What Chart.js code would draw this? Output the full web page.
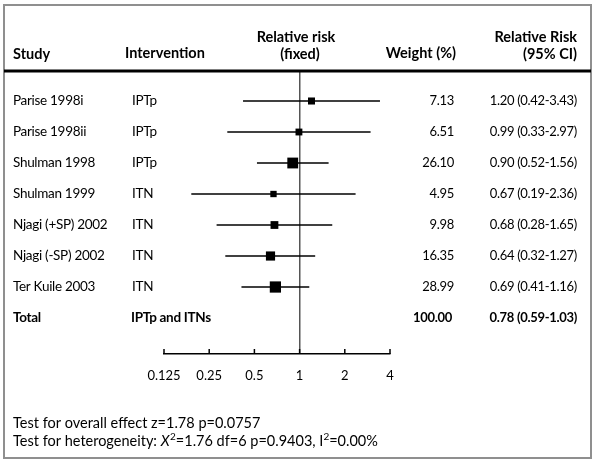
<!DOCTYPE html>
<html>
<head>
<meta charset="utf-8">
<script src="https://cdn.jsdelivr.net/npm/chart.js@4.4.1/dist/chart.umd.min.js"></script>
<style>
  html, body { margin: 0; padding: 0; background: #fff; }
  #wrap { width: 600px; height: 470px; position: relative; }
</style>
</head>
<body>
<div id="wrap"><canvas id="c" width="600" height="470" style="width:600px;height:470px"></canvas></div>
<script>
// ---- data ----
const studies = ['Parise 1998i', 'Parise 1998ii', 'Shulman 1998', 'Shulman 1999', 'Njagi (+SP) 2002', 'Njagi (-SP) 2002', 'Ter Kuile 2003'];
const interventions = ['IPTp', 'IPTp', 'IPTp', 'ITN', 'ITN', 'ITN', 'ITN'];
const relRisk = [1.20, 0.99, 0.90, 0.67, 0.68, 0.64, 0.69];
const ciLow = [0.42, 0.33, 0.52, 0.19, 0.28, 0.32, 0.41];
const ciHigh = [3.43, 2.97, 1.56, 2.36, 1.65, 1.27, 1.16];
const weights = [7.13, 6.51, 26.10, 4.95, 9.98, 16.35, 28.99];
const totalLabel = 'Total';
const totalIntervention = 'IPTp and ITNs';
const totalWeight = 100.00;
const totalRR = 0.78;
const totalLow = 0.59;
const totalHigh = 1.03;
const tickValues = [0.125, 0.25, 0.5, 1, 2, 4];
const tickLabels = ['0.125', '0.25', '0.5', '1', '2', '4'];
const headers = { study: 'Study', intervention: 'Intervention', rr1: 'Relative risk', rr2: '(fixed)', weight: 'Weight (%)', ci1: 'Relative Risk', ci2: '(95% CI)' };
const testOverall = 'Test for overall effect z=1.78 p=0.0757';
const testHet = ['Test for heterogeneity: ', 'X', '2', '=1.76 df=6 p=0.9403, I', '2', '=0.00%'];

// ---- helpers ----
const FONT = 'Lato, "Open Sans", sans-serif';
function squareSide(w) { return 2.9 + 1.55 * Math.sqrt(w); }
function fmtCI(r, lo, hi) { return r.toFixed(2) + ' (' + lo.toFixed(2) + '-' + hi.toFixed(2) + ')'; }
function setSpacing(ctx, v) { if ('letterSpacing' in ctx) ctx.letterSpacing = v; }

const ciDatasets = studies.map((s, i) => ({
  type: 'scatter',
  label: s + ' CI',
  data: [{ x: ciLow[i], y: i }, { x: ciHigh[i], y: i }],
  showLine: true,
  borderColor: '#000',
  borderWidth: 1.5,
  pointRadius: 0,
  order: 2
}));

const pointDataset = {
  type: 'scatter',
  label: 'Relative risk',
  data: relRisk.map((v, i) => ({ x: v, y: i })),
  pointStyle: 'rect',
  pointRadius: weights.map(w => squareSide(w) / Math.SQRT2),
  backgroundColor: '#000',
  borderColor: '#000',
  borderWidth: 0,
  order: 0
};

const tablePlugin = {
  id: 'tablePlugin',
  afterDraw(chart) {
    const ctx = chart.ctx;
    const ys = chart.scales.y;
    const xs = chart.scales.x;
    ctx.save();
    // outer frame
    ctx.strokeStyle = '#8f8f8f';
    ctx.lineWidth = 2;
    ctx.strokeRect(4, 5, 587, 453);
    // header rule
    ctx.fillStyle = '#000';
    ctx.fillRect(4, 69.5, 587, 3);
    // upward tick marks
    ctx.strokeStyle = '#000';
    ctx.lineWidth = 1.5;
    const by = chart.chartArea.bottom;
    xs.ticks.forEach(t => {
      const px = xs.getPixelForValue(t.value);
      ctx.beginPath(); ctx.moveTo(px, by); ctx.lineTo(px, by - 5); ctx.stroke();
    });
    // header text
    ctx.fillStyle = '#000';
    ctx.textBaseline = 'middle';
    ctx.font = 'bold 14.5px ' + FONT;
    ctx.textAlign = 'left';
    ctx.fillText(headers.study, 13, 54);
    ctx.fillText(headers.intervention, 125, 53);
    ctx.textAlign = 'center';
    ctx.fillText(headers.rr1, 296, 37);
    ctx.fillText(headers.rr2, 300, 54);
    ctx.textAlign = 'right';
    ctx.fillText(headers.weight, 456, 53);
    ctx.fillText(headers.ci1, 577, 37);
    ctx.fillText(headers.ci2, 577, 54);
    // rows
    setSpacing(ctx, '-0.3px');
    studies.forEach((s, i) => {
      const y = ys.getPixelForValue(i);
      ctx.font = '13.5px ' + FONT;
      ctx.textAlign = 'left';
      ctx.fillText(s, 13, y);
      ctx.fillText(interventions[i], 132, y);
      ctx.font = '13px ' + FONT;
      ctx.textAlign = 'right';
      ctx.fillText(weights[i].toFixed(2), 454, y);
      ctx.fillText(fmtCI(relRisk[i], ciLow[i], ciHigh[i]), 577, y);
    });
    // total row
    const ty = ys.getPixelForValue(studies.length);
    ctx.font = 'bold 13.5px ' + FONT;
    ctx.textAlign = 'left';
    ctx.fillText(totalLabel, 13, ty);
    ctx.fillText(totalIntervention, 131, ty);
    ctx.font = 'bold 13px ' + FONT;
    ctx.textAlign = 'right';
    ctx.fillText(totalWeight.toFixed(2), 452, ty);
    ctx.fillText(fmtCI(totalRR, totalLow, totalHigh), 577, ty);
    setSpacing(ctx, '0px');
    // test lines
    ctx.font = '14.5px ' + FONT;
    ctx.textAlign = 'left';
    ctx.fillText(testOverall, 13, 423);
    let x = 13; const y2 = 441;
    testHet.forEach((seg, k) => {
      if (k === 1) ctx.font = 'italic 14.5px ' + FONT;
      else if (k === 2 || k === 4) ctx.font = '10px ' + FONT;
      else ctx.font = '14.5px ' + FONT;
      const yy = (k === 2 || k === 4) ? y2 - 4 : y2;
      ctx.fillText(seg, x, yy);
      x += ctx.measureText(seg).width + ((k === 1) ? 0.5 : 0);
    });
    ctx.restore();
  }
};

new Chart(document.getElementById('c'), {
  type: 'scatter',
  data: { datasets: [pointDataset, ...ciDatasets] },
  options: {
    responsive: false,
    animation: false,
    events: [],
    layout: { padding: { left: 164, right: 210, top: 71, bottom: 76 } },
    plugins: { legend: { display: false }, tooltip: { enabled: false } },
    scales: {
      x: {
        type: 'logarithmic',
        min: tickValues[0],
        max: tickValues[tickValues.length - 1],
        afterBuildTicks: (scale) => { scale.ticks = tickValues.map(v => ({ value: v })); },
        afterFit: (scale) => { scale.height = 40; },
        ticks: {
          autoSkip: false,
          maxRotation: 0,
          padding: 14,
          color: '#000',
          font: { family: FONT, size: 13 },
          callback: (v, idx) => tickLabels[idx]
        },
        grid: {
          drawTicks: false,
          drawOnChartArea: true,
          lineWidth: 1.5,
          color: (c) => (c.tick && c.tick.value === 1) ? '#555555' : 'rgba(0,0,0,0)'
        },
        border: { display: true, color: '#000', width: 1.5 }
      },
      y: {
        type: 'linear',
        display: false,
        reverse: true,
        min: -0.968,
        max: 8.161
      }
    }
  },
  plugins: [tablePlugin]
});
</script>
</body>
</html>
